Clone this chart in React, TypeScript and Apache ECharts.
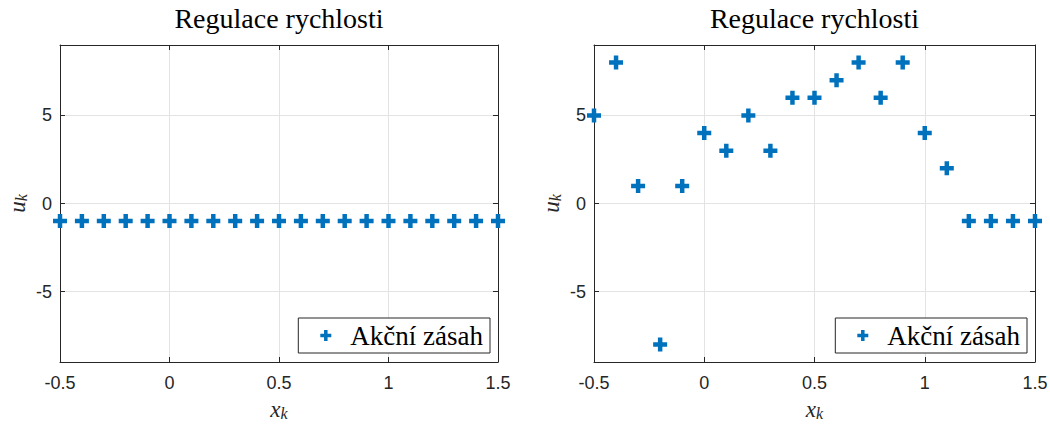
import React, { useEffect, useRef } from "react";
import * as echarts from "echarts";

const xValues = [-0.5, -0.4, -0.3, -0.2, -0.1, 0, 0.1, 0.2, 0.3, 0.4, 0.5, 0.6, 0.7, 0.8, 0.9, 1.0, 1.1, 1.2, 1.3, 1.4, 1.5];
const leftU = [-1, -1, -1, -1, -1, -1, -1, -1, -1, -1, -1, -1, -1, -1, -1, -1, -1, -1, -1, -1, -1];
const rightU = [5, 8, 1, -8, 1, 4, 3, 5, 3, 6, 6, 7, 8, 6, 8, 4, 2, -1, -1, -1, -1];
const titleText = "Regulace rychlosti";
const seriesName = "Akční zásah";

const PLUS = "path://M-1.6,-5 L1.6,-5 L1.6,-1.6 L5,-1.6 L5,1.6 L1.6,1.6 L1.6,5 L-1.6,5 L-1.6,1.6 L-5,1.6 L-5,-1.6 L-1.6,-1.6 Z";
const BLUE = "#0072BD";
const AX = "#262626";
const GRIDC = "#e3e3e3";
const SERIF = "'Liberation Serif', 'DejaVu Serif', serif";
const SANS = "'Liberation Sans', Arial, sans-serif";

export default function App() {
  const ref = useRef<HTMLDivElement>(null);
  useEffect(() => {
    if (!ref.current) return;
    const chart = echarts.init(ref.current, undefined, { renderer: "svg" });
    const grids = [
      { left: 60, right: 552, top: 45, bottom: 63, outerBoundsMode: "none", containLabel: false },
      { left: 594, right: 15, top: 45, bottom: 63, outerBoundsMode: "none", containLabel: false },
    ];
    const datasets = [leftU, rightU];
    const xAxes: any[] = [];
    const yAxes: any[] = [];
    const series: any[] = [];
    const titles: any[] = [];
    const legends: any[] = [];
    const legendText = { fontFamily: SERIF, fontSize: 27, lineHeight: 29, color: "#000", padding: [0, 0, 0, 14] };
    const nameRich = {
      a: { fontFamily: SERIF, fontStyle: "italic", fontSize: 23, color: AX },
      b: { fontFamily: SERIF, fontStyle: "italic", fontSize: 16, color: AX, padding: [8, 0, 0, 0] },
    };
    grids.forEach((g, i) => {
      const w = 1050 - g.left - g.right;
      titles.push({
        text: titleText,
        left: g.left + w / 2,
        textAlign: "center",
        top: 4,
        padding: 0,
        textStyle: { fontFamily: SERIF, fontSize: 28, fontWeight: "normal", color: "#000" },
      });
      xAxes.push({
        gridIndex: i,
        type: "value",
        min: -0.5,
        max: 1.5,
        interval: 0.5,
        position: "bottom",
        axisLine: { show: true, onZero: false, lineStyle: { color: AX, width: 1 } },
        axisTick: { show: true, inside: true, length: 5, lineStyle: { color: AX } },
        axisLabel: { color: AX, fontFamily: SANS, fontSize: 18, margin: 12 },
        splitLine: { show: true, lineStyle: { color: GRIDC, width: 1 } },
        name: "{a|x}{b|k}",
        nameLocation: "middle",
        nameGap: 35,
        nameTextStyle: { rich: nameRich },
      });
      xAxes.push({
        gridIndex: i,
        type: "value",
        min: -0.5,
        max: 1.5,
        interval: 0.5,
        position: "top",
        axisLine: { show: true, onZero: false, lineStyle: { color: AX, width: 1 } },
        axisTick: { show: true, inside: true, length: 5, lineStyle: { color: AX } },
        axisLabel: { show: false },
        splitLine: { show: false },
      });
      yAxes.push({
        gridIndex: i,
        type: "value",
        min: -9,
        max: 9,
        splitNumber: 4,
        position: "left",
        axisLine: { show: true, onZero: false, lineStyle: { color: AX, width: 1 } },
        axisTick: { show: true, inside: true, length: 5, lineStyle: { color: AX } },
        axisLabel: { color: AX, fontFamily: SANS, fontSize: 18, margin: 8, showMinLabel: false, showMaxLabel: false },
        splitLine: { show: true, lineStyle: { color: GRIDC, width: 1 } },
        name: "{a|u}{b|k}",
        nameLocation: "middle",
        nameGap: 31,
        nameRotate: 90,
        nameTextStyle: { rich: nameRich },
      });
      yAxes.push({
        gridIndex: i,
        type: "value",
        min: -9,
        max: 9,
        splitNumber: 4,
        position: "right",
        axisLine: { show: true, onZero: false, lineStyle: { color: AX, width: 1 } },
        axisTick: { show: true, inside: true, length: 5, lineStyle: { color: AX } },
        axisLabel: { show: false },
        splitLine: { show: false },
      });
      series.push({
        name: seriesName,
        type: "scatter",
        xAxisIndex: i * 2,
        yAxisIndex: i * 2,
        symbol: PLUS,
        symbolSize: 14,
        itemStyle: { color: BLUE, opacity: 1 },
        data: xValues.map((x, k) => [x, datasets[i][k]]),
      });
      legends.push({
        data: [{ name: seriesName, icon: PLUS, textStyle: legendText }],
        right: i === 0 ? 560 : 23,
        bottom: 72,
        orient: "vertical",
        itemWidth: 11,
        itemHeight: 11,
        itemGap: 0,
        padding: [3, 7, 3, 22],
        borderColor: AX,
        borderWidth: 1,
        backgroundColor: "#fff",
        selectedMode: false,
        textStyle: legendText,
      });
    });
    chart.setOption({
      animation: false,
      backgroundColor: "#fff",
      title: titles,
      grid: grids,
      xAxis: xAxes,
      yAxis: yAxes,
      series,
      legend: legends,
    });
    return () => chart.dispose();
  }, []);
  return (
    <div
      ref={ref}
      style={{ position: "fixed", left: 0, top: 0, width: 1050, height: 425 }}
    />
  );
}
